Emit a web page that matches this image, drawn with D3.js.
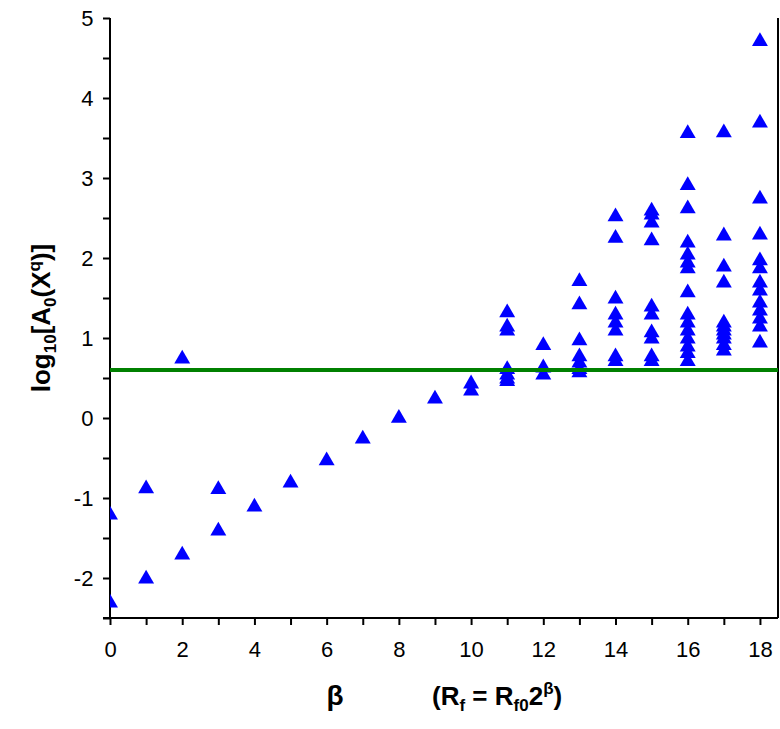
<!DOCTYPE html>
<html><head><meta charset="utf-8">
<script src="https://cdn.jsdelivr.net/npm/d3@7"></script>
<style>body{margin:0;background:#fff}text{font-family:"Liberation Sans",Arial,sans-serif}</style>
</head><body><svg id="c" width="780" height="729"></svg>
<script>
// beta columns and log10 values per column
const betas = [0,1,2,3,4,5,6,7,8,9,10,11,12,13,14,15,16,17,18]
const values = [
  [-1.2,-2.3],
  [-0.87,-2.0],
  [0.75,-1.7],
  [-0.88,-1.4],
  [-1.1],
  [-0.8],
  [-0.52],
  [-0.25],
  [0.01],
  [0.25],
  [0.44,0.35],
  [1.33,1.15,1.1,0.62,0.55,0.5,0.47],
  [0.92,0.64,0.55],
  [1.72,1.43,0.98,0.78,0.7,0.62,0.58],
  [2.53,2.26,1.5,1.3,1.2,1.1,0.78,0.72],
  [2.6,2.55,2.45,2.23,1.4,1.3,1.08,1.0,0.78,0.72],
  [3.57,2.92,2.63,2.2,2.05,1.95,1.88,1.58,1.3,1.2,1.1,1.0,0.9,0.82,0.72],
  [3.58,2.29,1.9,1.7,1.2,1.15,1.1,1.05,1.0,0.92,0.85],
  [4.72,3.7,2.75,2.3,1.98,1.88,1.7,1.6,1.45,1.35,1.25,1.15,0.95]
]
const threshold = 0.6
const xTicks = [0,2,4,6,8,10,12,14,16,18]
const yTicks = [-2,-1,0,1,2,3,4,5]

const svg = d3.select("#c")
const x = d3.scaleLinear().domain([0,18.5]).range([110,778])
const y = d3.scaleLinear().domain([-2.5,5]).range([618,18])

const pts = betas.flatMap((b,i) => values[i].map(v => ({b, v})))

const gx = svg.append("g").attr("transform","translate(0,618)")
  .call(d3.axisBottom(x).tickValues(d3.range(0,19)).tickSize(7).tickFormat(d => xTicks.includes(d) ? d : ""))
const gy = svg.append("g").attr("transform","translate(110,0)")
  .call(d3.axisLeft(y).tickValues(d3.range(-2.5,5.01,0.5)).tickSize(7).tickFormat(d => yTicks.includes(d) ? d : ""))
for (const g of [gx,gy]) {
  g.selectAll("path,line").attr("stroke","#000").attr("stroke-width",2)
  g.selectAll("text").attr("font-size",22).attr("fill","#000")
}
gx.select(".domain").attr("d","M103,0H778")
gy.select(".domain").attr("d","M0,18V618")
gx.selectAll("text").attr("dy","1.3em")
gy.selectAll("text").attr("dx","-0.3em")
svg.append("line").attr("x1",778).attr("x2",778).attr("y1",18).attr("y2",618)
  .attr("stroke","#000").attr("stroke-width",2)

svg.append("defs").append("clipPath").attr("id","clip")
  .append("rect").attr("x",110).attr("y",0).attr("width",668).attr("height",618)

svg.append("g").attr("clip-path","url(#clip)").selectAll("path").data(pts).join("path")
  .attr("d", d3.symbol(d3.symbolTriangle, 110))
  .attr("transform", d => `translate(${x(d.b)},${y(d.v) + 1})`)
  .attr("fill","#0000ff")

svg.append("line").attr("x1",110).attr("x2",778).attr("y1",y(threshold)).attr("y2",y(threshold))
  .attr("stroke","#008000").attr("stroke-width",4)

svg.append("text").attr("transform","translate(50,318) rotate(-90)").attr("text-anchor","middle")
  .attr("font-size",26).attr("font-weight","bold")
  .html('log<tspan font-size="17" dy="6">10</tspan><tspan dy="-6">[A</tspan><tspan font-size="17" dy="6">0</tspan><tspan dy="-6">(X</tspan><tspan font-size="17" dy="-10">q</tspan><tspan dy="10">)]</tspan>')
svg.append("text").attr("x",335).attr("y",705).attr("text-anchor","middle")
  .attr("font-size",28).attr("font-weight","bold").text("β")
svg.append("text").attr("x",432).attr("y",705)
  .attr("font-size",26).attr("font-weight","bold")
  .html('(R<tspan font-size="17" dy="6">f</tspan><tspan dy="-6"> = R</tspan><tspan font-size="17" dy="6">f0</tspan><tspan dy="-6">2</tspan><tspan font-size="17" dy="-11">β</tspan><tspan dy="11">)</tspan>')
</script></body></html>
